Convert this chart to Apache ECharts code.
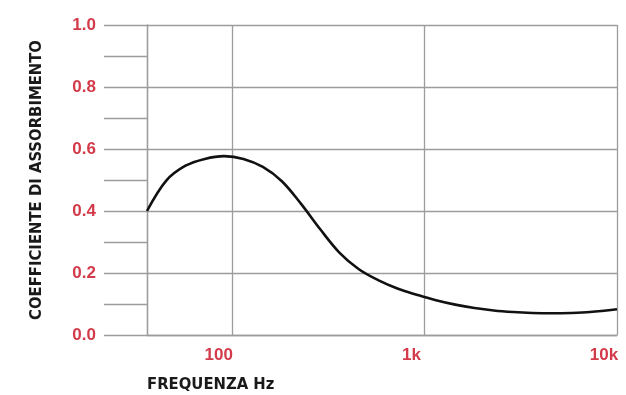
<!DOCTYPE html>
<html>
<head>
<meta charset="utf-8">
<script src="https://cdn.jsdelivr.net/npm/echarts@6/dist/echarts.min.js"></script>
<style>
html,body{margin:0;padding:0;background:#fff;}
#chart{width:626px;height:395px;}
</style>
</head>
<body>
<div id="chart"></div>
<script>
// Frequency (Hz) and absorption coefficient
var frequencies = [36.3, 45.7, 57.5, 72.4, 91.2, 115, 145, 182, 229, 288, 363, 457, 575, 724, 912, 1148, 1445, 1820, 2291, 2884, 3631, 4571, 5754, 7244, 10000];
var absorption  = [0.400, 0.498, 0.546, 0.568, 0.577, 0.568, 0.542, 0.496, 0.423, 0.341, 0.265, 0.212, 0.177, 0.150, 0.130, 0.112, 0.098, 0.087, 0.079, 0.074, 0.071, 0.070, 0.071, 0.074, 0.083];
var xTickLabels = {100: '100', 1000: '1k', 10000: '10k'};
var yTickLabels = ['0.0', '0.2', '0.4', '0.6', '0.8', '1.0'];
var xAxisTitle = 'FREQUENZA Hz';
var yAxisTitle = 'COEFFICIENTE DI ASSORBIMENTO';

var gridColor = '#9c9c9c';
var labelColor = '#d33b4a';
var nameFont = '"DejaVu Sans Condensed", "Liberation Sans Narrow", "Liberation Sans", sans-serif';

var seriesData = frequencies.map(function (f, i) { return [f, absorption[i]]; });

var chart = echarts.init(document.getElementById('chart'), null, {renderer: 'canvas'});
chart.setOption({
  animation: false,
  backgroundColor: '#ffffff',
  grid: {left: 147, right: 9, top: 25, bottom: 60, containLabel: false},
  xAxis: {
    type: 'log',
    logBase: 10,
    min: 36.3,
    max: 10000,
    name: xAxisTitle,
    nameLocation: 'start',
    nameGap: 0,
    nameTextStyle: {
      align: 'left', verticalAlign: 'top', padding: [41, 0, 0, 0],
      fontFamily: nameFont, fontWeight: 'bold', fontSize: 16.5, color: '#1a1a1a'
    },
    axisLine: {show: true, lineStyle: {color: gridColor, width: 1.3}},
    axisTick: {show: false},
    splitLine: {show: true, lineStyle: {color: gridColor, width: 1.3}},
    axisLabel: {
      margin: 12,
      color: labelColor,
      fontFamily: '"Liberation Sans", Arial, sans-serif',
      fontWeight: 'bold',
      fontSize: 17,
      padding: [0, 26, 0, 0],
      showMinLabel: false,
      formatter: function (v) {
        var keys = Object.keys(xTickLabels);
        for (var i = 0; i < keys.length; i++) {
          if (Math.abs(v - Number(keys[i])) / Number(keys[i]) < 0.01) return xTickLabels[keys[i]];
        }
        return '';
      }
    }
  },
  yAxis: {
    type: 'value',
    min: 0,
    max: 1,
    interval: 0.2,
    name: yAxisTitle,
    nameLocation: 'middle',
    nameGap: 102,
    nameTextStyle: {
      fontFamily: nameFont, fontWeight: 'bold', fontSize: 16.5, color: '#1a1a1a'
    },
    axisLine: {show: true, lineStyle: {color: gridColor, width: 1.3}},
    axisTick: {show: true, inside: false, length: 43, lineStyle: {color: gridColor, width: 1.3}},
    minorTick: {show: true, splitNumber: 2, length: 43, lineStyle: {color: gridColor, width: 1.3}},
    splitLine: {show: true, lineStyle: {color: gridColor, width: 1.3}},
    axisLabel: {
      margin: 51,
      color: labelColor,
      fontFamily: '"Liberation Sans", Arial, sans-serif',
      fontWeight: 'bold',
      fontSize: 17,
      formatter: function (v) { return yTickLabels[Math.round(v / 0.2)] || ''; }
    }
  },
  series: [{
    type: 'line',
    data: seriesData,
    smooth: 0.35,
    showSymbol: false,
    symbol: 'none',
    lineStyle: {color: '#111111', width: 2.6},
    clip: true
  }]
});
</script>
</body>
</html>
